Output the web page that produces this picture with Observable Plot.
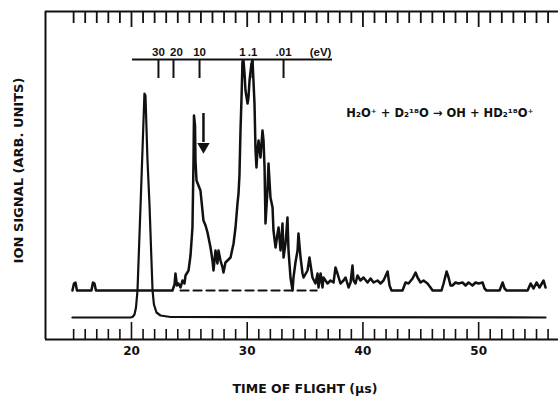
<!DOCTYPE html>
<html><head><meta charset="utf-8">
<script src="https://cdn.jsdelivr.net/npm/d3@7"></script>
<script src="https://cdn.jsdelivr.net/npm/@observablehq/plot@0.6"></script>
<style>
html,body{margin:0;padding:0;background:#fff;}
</style>
</head><body><div id="chart"></div>
<script>
// x: time of flight (µs); y: ion signal (arb. units)
const xDomain = [12.57, 56.9];
const yDomain = [0, 328];
const xTickLabels = [20, 30, 40, 50];
const minorTicks = d3.range(15, 57);

// primary ion trace (lower)
const lowerTof = [14.90, 19.91, 20.09, 20.26, 20.39, 20.52, 20.78, 20.95, 21.12, 21.21, 21.38, 21.56, 21.73, 21.82, 21.94, 22.16, 22.51, 23.37, 55.78];
const lowerSignal = [22, 22, 22.5, 25, 32, 49, 133, 189, 246, 244, 180, 134, 78, 49, 35, 27, 24, 22.5, 22];

// product ion trace (upper)
const upperTof = [14.90, 15.03, 15.16, 15.29, 16.54, 16.67, 16.80, 16.93, 23.54, 23.72, 23.80, 23.93, 24.06, 24.24, 24.41, 24.58, 24.67, 24.93, 25.10, 25.27, 25.36, 25.40, 25.49, 25.53, 25.62, 25.79, 25.96, 26.22, 26.40, 26.57, 26.83, 27.00, 27.09, 27.26, 27.43, 27.52, 27.69, 27.87, 27.95, 28.12, 28.30, 28.56, 28.82, 28.99, 29.16, 29.25, 29.33, 29.42, 29.51, 29.59, 29.68, 29.77, 29.85, 30.03, 30.11, 30.20, 30.37, 30.46, 30.54, 30.63, 30.72, 30.80, 30.89, 30.98, 31.15, 31.32, 31.41, 31.50, 31.58, 31.75, 31.84, 32.01, 32.19, 32.27, 32.45, 32.62, 32.71, 32.88, 33.05, 33.14, 33.31, 33.48, 33.57, 33.74, 33.92, 34.00, 34.17, 34.35, 34.43, 34.61, 34.78, 34.87, 35.21, 35.38, 35.64, 35.90, 36.08, 36.16, 36.34, 36.51, 36.59, 36.94, 37.20, 37.46, 37.63, 37.80, 38.06, 38.32, 38.50, 38.76, 38.93, 39.10, 39.19, 39.36, 39.53, 39.79, 40.05, 40.40, 40.66, 40.92, 41.26, 41.52, 41.78, 42.13, 42.30, 42.47, 43.42, 43.68, 43.94, 44.29, 44.55, 44.72, 44.98, 45.24, 45.58, 45.84, 46.02, 46.79, 46.97, 47.23, 47.40, 47.57, 47.74, 48.00, 48.26, 48.61, 48.87, 49.13, 49.47, 49.73, 49.99, 50.34, 50.51, 50.68, 51.81, 52.07, 52.24, 52.41, 54.23, 54.49, 54.75, 55.00, 55.26, 55.61, 55.78];
const upperSignal = [49, 56, 57, 49, 49, 57, 56, 49, 49, 55, 66, 54, 56, 52, 59, 56, 64, 69, 84, 112, 179, 224, 214, 179, 159, 154, 149, 119, 114, 107, 92, 79, 69, 89, 76, 89, 79, 72, 67, 77, 79, 82, 96, 112, 136, 146, 164, 209, 242, 276, 279, 266, 249, 236, 242, 259, 276, 279, 259, 236, 189, 172, 189, 199, 182, 209, 199, 172, 116, 149, 176, 142, 132, 109, 92, 106, 112, 89, 116, 82, 96, 122, 89, 62, 49, 62, 77, 89, 106, 82, 66, 62, 69, 82, 62, 56, 66, 52, 66, 52, 62, 56, 59, 57, 72, 66, 56, 59, 62, 52, 57, 74, 59, 56, 64, 59, 62, 57, 61, 57, 59, 56, 59, 68, 54, 49, 49, 57, 56, 61, 67, 62, 57, 59, 56, 52, 49, 49, 56, 68, 62, 54, 54, 57, 56, 57, 54, 57, 54, 57, 56, 57, 51, 49, 49, 57, 51, 49, 49, 56, 51, 57, 52, 59, 52];

// dashed baseline under the product signal
const baseTof = [24.24, 36.0];
const baseSignal = [49, 49];

// energy scale (eV) marked along time of flight
const evLabel = ["30", "20", "10", "1", ".1", ".01"];
const evTof = [22.33, 23.63, 25.88, 29.59, 30.46, 33.14];
const evSpan = [20.09, 37.37];
const evLevel = 280;

const reaction = "H\u2082O\u207A + D\u2082\u00B9\u2078O \u2192 OH + HD\u2082\u00B9\u2078O\u207A";
const arrowTof = 26.22;

const ink = "#111";
const lower = lowerTof.map((t, i) => ({t, s: lowerSignal[i]}));
const upper = upperTof.map((t, i) => ({t, s: upperSignal[i]}));
const base = baseTof.map((t, i) => ({t, s: baseSignal[i]}));
const ev = evTof.map((t, i) => ({t, label: evLabel[i]}));
const ticks = minorTicks.map(t => ({t, major: t % 10 === 0}));
const evFont = "Liberation Sans, Arial, sans-serif";

const chart = Plot.plot({
  width: 558, height: 400,
  marginLeft: 45, marginRight: 0, marginTop: 11, marginBottom: 61,
  x: {domain: xDomain},
  y: {domain: yDomain, axis: null},
  style: {fontFamily: "DejaVu Sans", fontWeight: "bold", background: "white", color: ink},
  marks: [
    // frame
    Plot.ruleY([yDomain[0], yDomain[1]], {stroke: ink, strokeWidth: 2}),
    Plot.ruleX([xDomain[0]], {y1: yDomain[0], y2: yDomain[1], stroke: ink, strokeWidth: 2}),
    // minor/major ticks, bottom and top
    Plot.ruleX(ticks, {x: "t", y1: 0, y2: d => d.major ? 17 : 10, stroke: ink, strokeWidth: 1.6}),
    Plot.ruleX(ticks, {x: "t", y1: 328, y2: d => d.major ? 312 : 316, stroke: ink, strokeWidth: 1.8}),
    Plot.axisX({ticks: xTickLabels, tickSize: 0, tickPadding: 7, fontSize: 12, fontWeight: "bold", label: null}),
    Plot.text(["TIME OF FLIGHT (\u00B5s)"], {frameAnchor: "bottom", dy: 49, dx: 3, fontSize: 12.5, fontWeight: "bold", lineAnchor: "middle"}),
    Plot.text(["ION SIGNAL (ARB. UNITS)"], {frameAnchor: "left", dx: -27, dy: -5, rotate: -90, textAnchor: "middle", fontSize: 13, fontWeight: "bold", lineAnchor: "middle"}),
    // energy scale
    Plot.ruleY([evLevel], {x1: evSpan[0], x2: evSpan[1], stroke: ink, strokeWidth: 2}),
    Plot.ruleX(ev, {x: "t", y1: evLevel - 19, y2: evLevel, stroke: ink, strokeWidth: 2}),
    Plot.text(ev.filter(d => d.label !== "20"), {x: "t", y: evLevel + 7, text: "label", fontFamily: evFont, fontSize: 11.5, fontWeight: "bold", lineAnchor: "middle"}),
    Plot.text(ev.filter(d => d.label === "20"), {x: "t", y: evLevel + 7, dx: 3, text: "label", fontFamily: evFont, fontSize: 11.5, fontWeight: "bold", lineAnchor: "middle"}),
    Plot.text(["(eV)"], {x: 36.34, y: evLevel + 7, fontFamily: evFont, fontSize: 11.5, fontWeight: "bold", lineAnchor: "middle"}),
    // traces
    Plot.line(base, {x: "t", y: "s", stroke: ink, strokeWidth: 2.2, strokeDasharray: "8,5"}),
    Plot.line(lower, {x: "t", y: "s", stroke: ink, strokeWidth: 2.2, strokeLinejoin: "round"}),
    Plot.line(upper, {x: "t", y: "s", stroke: ink, strokeWidth: 2.5, strokeLinejoin: "round"}),
    // arrow
    Plot.ruleX([arrowTof], {y1: 226, y2: 197, stroke: ink, strokeWidth: 2.5}),
    Plot.dot([arrowTof], {x: d => d, y: 193, symbol: "triangle", r: 4.6, rotate: 180, fill: ink, stroke: "none"}),
    // reaction label
    Plot.text([reaction], {x: 46.66, y: 226, fontSize: 11.5, fontWeight: "bold", lineAnchor: "middle"})
  ]
});
document.getElementById("chart").appendChild(chart);
</script>
</body></html>
